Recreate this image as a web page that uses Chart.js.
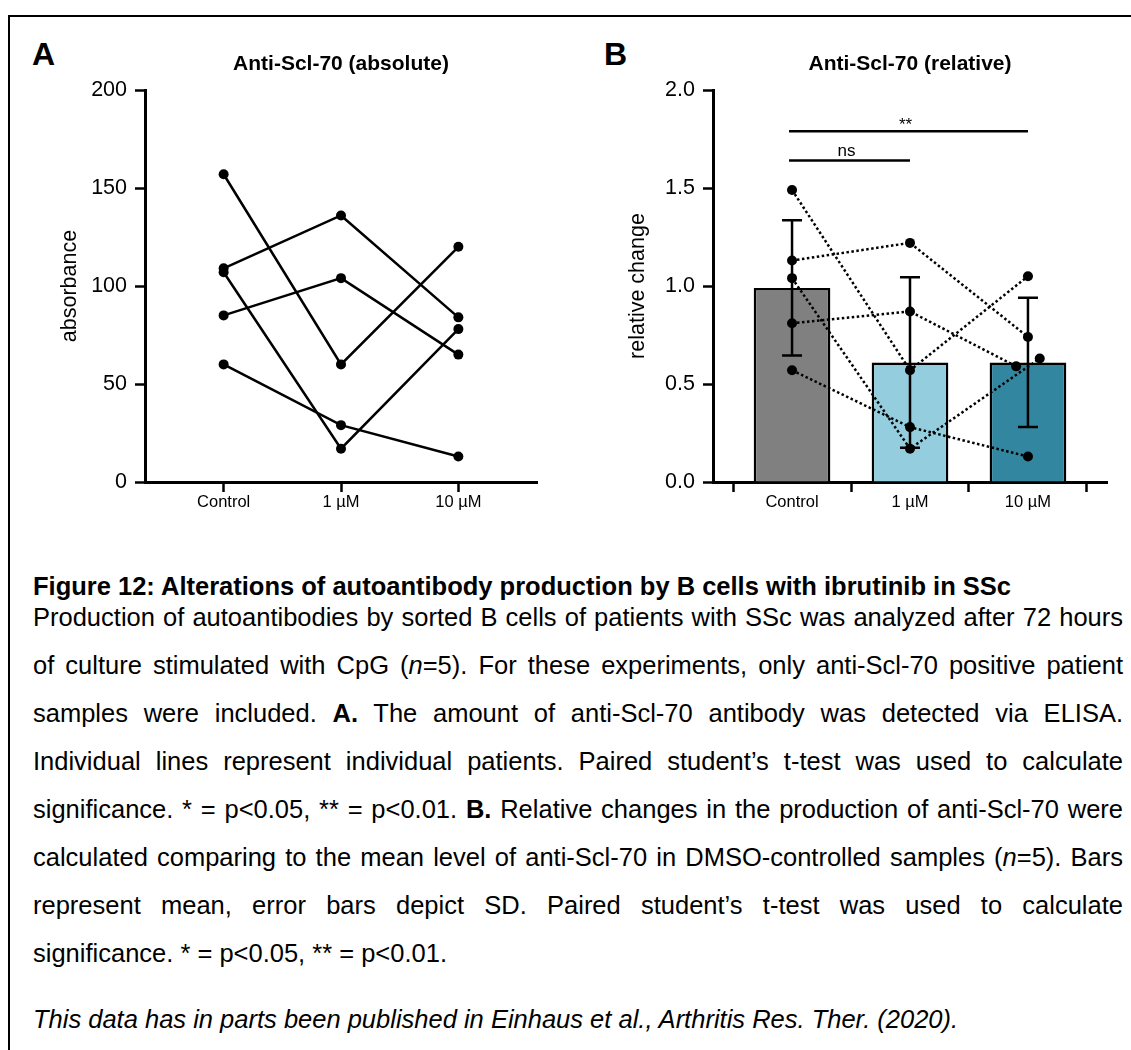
<!DOCTYPE html>
<html>
<head>
<meta charset="utf-8">
<script src="https://cdn.jsdelivr.net/npm/chart.js@4.4.1/dist/chart.umd.min.js"></script>
<style>
html,body{margin:0;padding:0;background:#fff;}
body{width:1131px;height:1050px;position:relative;overflow:hidden;font-family:"Liberation Sans",Arial,Helvetica,sans-serif;color:#000;}
#frame{position:absolute;left:8px;top:15px;right:-4px;bottom:-4px;border-top:2px solid #000;border-left:2px solid #000;}
.panel{position:absolute;font-weight:bold;font-size:32px;line-height:32px;}
canvas{position:absolute;top:0;}
.cap{position:absolute;left:33px;width:1090px;font-size:25.5px;line-height:30px;height:30px;white-space:nowrap;}
.just{text-align:justify;text-align-last:justify;}
.head{font-weight:bold;}
</style>
</head>
<body>
<div id="frame"></div>
<div class="panel" style="left:32px;top:38px;">A</div>
<div class="panel" style="left:604px;top:38px;">B</div>
<canvas id="cA" width="565" height="530" style="left:0;width:565px;height:530px;"></canvas>
<canvas id="cB" width="563" height="530" style="left:568px;width:563px;height:530px;"></canvas>

<div class="cap head" style="top:571px;">Figure 12: Alterations of autoantibody production by B cells with ibrutinib in SSc</div>
<div class="cap just" style="top:602px;">Production of autoantibodies by sorted B cells of patients with SSc was analyzed after 72 hours</div>
<div class="cap just" style="top:650px;">of culture stimulated with CpG (<i>n</i>=5). For these experiments, only anti-Scl-70 positive patient</div>
<div class="cap just" style="top:698px;">samples were included. <b>A.</b> The amount of anti-Scl-70 antibody was detected via ELISA.</div>
<div class="cap just" style="top:746px;">Individual lines represent individual patients. Paired student’s t-test was used to calculate</div>
<div class="cap just" style="top:794px;">significance. * = p&lt;0.05, ** = p&lt;0.01. <b>B.</b> Relative changes in the production of anti-Scl-70 were</div>
<div class="cap just" style="top:842px;">calculated comparing to the mean level of anti-Scl-70 in DMSO-controlled samples (<i>n</i>=5). Bars</div>
<div class="cap just" style="top:890px;">represent mean, error bars depict SD. Paired student’s t-test was used to calculate</div>
<div class="cap" style="top:938px;">significance. * = p&lt;0.05, ** = p&lt;0.01.</div>
<div class="cap" style="top:1004px;font-style:italic;">This data has in parts been published in Einhaus et al., Arthritis Res. Ther. (2020).</div>

<script>
// ---------- data ----------
const categories = ['Control', '1 µM', '10 µM'];
const absTicks = [0, 50, 100, 150, 200];
const relTicks = [0, 0.5, 1.0, 1.5, 2.0];
// Panel A: absorbance per patient (Control, 1 µM, 10 µM)
const absP1 = [157, 60, 120];
const absP2 = [109, 136, 84];
const absP3 = [107, 17, 78];
const absP4 = [85, 104, 65];
const absP5 = [60, 29, 13];
// Panel B: relative change per patient
const relP1 = [1.49, 0.57, 1.05];
const relP2 = [1.13, 1.22, 0.74];
const relP3 = [1.04, 0.17, 0.63];
const relP4 = [0.81, 0.87, 0.59];
const relP5 = [0.57, 0.28, 0.13];
// horizontal scatter of overlapping points (category units)
const relJitter = [[0,0,0],[0,0,0],[0,0,0.1],[0,0,-0.1],[0,0,0]];
const relMean = [0.99, 0.61, 0.61];
const relSD = [0.345, 0.435, 0.33];
const barColors = ['#808080', '#94cddd', '#33869f'];
const sigLabels = ['ns', '**'];
const sigFrom = [0, 0];
const sigTo = [1, 2];
const sigLevel = [1.64, 1.79];

const FONT = '"Liberation Sans", Arial, Helvetica, sans-serif';
Chart.defaults.font.family = FONT;
Chart.defaults.color = '#000';

function xAxis() {
  return {
    type: 'linear', min: -0.67, max: 2.67, offset: false,
    afterBuildTicks: s => { s.ticks = categories.map((c, i) => ({ value: i })); },
    afterFit: s => { s.height = 48; },
    ticks: { callback: v => categories[v], font: { size: 16.5 }, color: '#000', padding: 1, autoSkip: false, maxRotation: 0 },
    grid: { display: true, drawOnChartArea: false, drawTicks: true, tickLength: 10, tickWidth: 2.5, tickColor: '#000' },
    border: { display: true, width: 3, color: '#000' }
  };
}
function yAxis(tickVals, title, fmt) {
  return {
    type: 'linear', min: tickVals[0], max: tickVals[tickVals.length - 1],
    afterBuildTicks: s => { s.ticks = tickVals.map(v => ({ value: v })); },
    afterFit: s => { s.width = 145; },
    ticks: { font: { size: 21.5 }, color: '#000', padding: 8, callback: fmt },
    grid: { display: true, drawOnChartArea: false, drawTicks: true, tickLength: 10, tickWidth: 2.5, tickColor: '#000' },
    border: { display: true, width: 3, color: '#000' },
    title: { display: true, text: title, font: { size: 21.5 }, color: '#000', padding: { top: 57, bottom: 0 } }
  };
}
function titleOpt(text) {
  return { display: true, text: text, fullSize: false, color: '#000',
           font: { size: 21, weight: 'bold' }, padding: { top: 0, bottom: 12.8 } };
}

// ---------- Panel A ----------
const absRows = [absP1, absP2, absP3, absP4, absP5];
new Chart(document.getElementById('cA'), {
  type: 'line',
  data: {
    datasets: absRows.map(r => ({
      data: r.map((v, i) => ({ x: i, y: v })),
      borderColor: '#000', backgroundColor: '#000', borderWidth: 2.5,
      pointRadius: 5, pointHoverRadius: 5, pointBorderWidth: 0, tension: 0, fill: false
    }))
  },
  options: {
    responsive: false, animation: false, devicePixelRatio: 1,
    layout: { padding: { top: 52, left: 0, right: 28, bottom: 0 } },
    plugins: { legend: { display: false }, tooltip: { enabled: false }, title: titleOpt('Anti-Scl-70 (absolute)') },
    scales: { x: xAxis(), y: yAxis(absTicks, 'absorbance', v => String(v)) }
  }
});

// ---------- Panel B ----------
const errorBars = {
  id: 'errorBars',
  afterDatasetDraw(chart, args) {
    if (args.index !== 0) return;
    const { ctx, scales: { y } } = chart;
    const meta = chart.getDatasetMeta(0);
    ctx.save();
    ctx.strokeStyle = '#000'; ctx.lineWidth = 2.5; ctx.lineCap = 'butt';
    relMean.forEach((m, i) => {
      const px = meta.data[i].x;
      const yt = y.getPixelForValue(m + relSD[i]);
      const yb = y.getPixelForValue(m - relSD[i]);
      ctx.beginPath();
      ctx.moveTo(px, yt); ctx.lineTo(px, yb);
      ctx.moveTo(px - 10, yt); ctx.lineTo(px + 10, yt);
      ctx.moveTo(px - 10, yb); ctx.lineTo(px + 10, yb);
      ctx.stroke();
    });
    ctx.restore();
  }
};
const sigPlugin = {
  id: 'sig',
  afterDraw(chart) {
    const { ctx, scales: { x, y } } = chart;
    ctx.save();
    ctx.strokeStyle = '#000'; ctx.fillStyle = '#000'; ctx.lineWidth = 2.5;
    ctx.font = '17px ' + FONT; ctx.textAlign = 'center'; ctx.textBaseline = 'alphabetic';
    sigLabels.forEach((lab, k) => {
      const x1 = x.getPixelForValue(sigFrom[k]) - 3;
      const x2 = x.getPixelForValue(sigTo[k]);
      const py = y.getPixelForValue(sigLevel[k]);
      ctx.beginPath(); ctx.moveTo(x1, py); ctx.lineTo(x2, py); ctx.stroke();
      ctx.fillText(lab, (x1 + x2) / 2 - 3, py - (lab === 'ns' ? 5 : 1));
    });
    ctx.restore();
  }
};
const relRows = [relP1, relP2, relP3, relP4, relP5];
const bDatasets = [{
  type: 'bar', order: 10,
  data: relMean.map((v, i) => ({ x: i, y: v })),
  backgroundColor: barColors, borderColor: '#000', borderWidth: 2.5, borderSkipped: 'start',
  categoryPercentage: 1, barPercentage: 0.65
}].concat(relRows.map((r, p) => ({
  type: 'line', order: 0,
  data: r.map((v, i) => ({ x: i + relJitter[p][i], y: v })),
  borderColor: '#000', backgroundColor: '#000', borderWidth: 2.5, borderDash: [2.5, 2.5],
  pointRadius: 5, pointHoverRadius: 5, pointBorderWidth: 0, tension: 0, fill: false
})));
new Chart(document.getElementById('cB'), {
  type: 'bar',
  data: { datasets: bDatasets },
  options: {
    responsive: false, animation: false, devicePixelRatio: 1,
    layout: { padding: { top: 52, left: 0, right: 24, bottom: 0 } },
    plugins: { legend: { display: false }, tooltip: { enabled: false }, title: titleOpt('Anti-Scl-70 (relative)') },
    scales: { x: xAxis(), y: yAxis(relTicks, 'relative change', v => v.toFixed(1)) }
  },
  plugins: [errorBars, sigPlugin]
});
</script>
</body>
</html>
